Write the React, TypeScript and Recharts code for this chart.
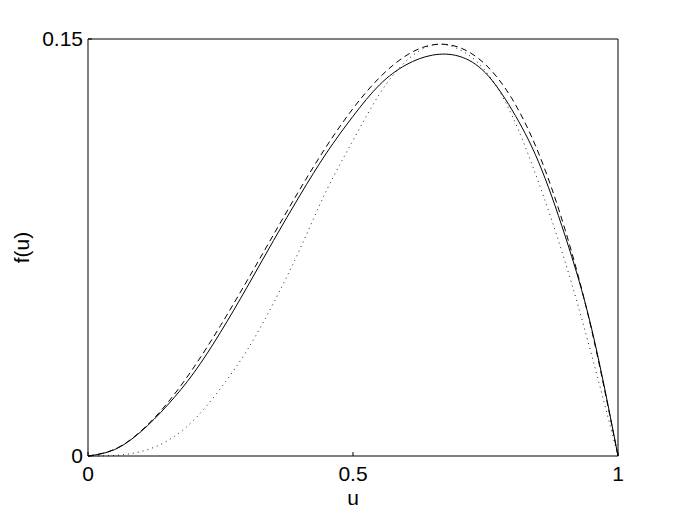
import { Line, LineChart, XAxis, YAxis } from "recharts";

// Sample positions along u at a 0.05 step.
const U = [
  0, 0.05, 0.1, 0.15, 0.2, 0.25, 0.3, 0.35, 0.4, 0.45, 0.5, 0.55, 0.6, 0.65,
  0.7, 0.75, 0.8, 0.85, 0.9, 0.95, 1,
];

// Solid curve (slightly lower peak, ~0.1443 near u = 0.67).
const SOLID = [
  0, 0.0023, 0.0088, 0.0183, 0.03, 0.0445, 0.0607, 0.0775, 0.0938, 0.109,
  0.1222, 0.1335, 0.1407, 0.1442, 0.1438, 0.1378, 0.1245, 0.1058, 0.0793,
  0.046, 0,
];

// Dashed curve (highest on the left, peak ~0.148).
const DASHED = [
  0, 0.0024, 0.009, 0.0191, 0.032, 0.0469, 0.063, 0.0796, 0.096, 0.1114,
  0.125, 0.1361, 0.144, 0.1479, 0.147, 0.1408, 0.1285, 0.109, 0.0815, 0.0455,
  0,
];

// Dotted curve (slow start, meets the dashed one at the top).
const DOTTED = [
  0, 0.0002, 0.0016, 0.0055, 0.013, 0.0243, 0.038, 0.055, 0.0745, 0.0955,
  0.1135, 0.1302, 0.142, 0.1478, 0.1463, 0.1385, 0.1225, 0.0985, 0.07, 0.0365,
  0,
];

const X_TICKS = [0, 0.5, 1];
const Y_TICKS = [0, 0.15];

const data = U.map((u, i) => ({
  u,
  solid: SOLID[i],
  dashed: DASHED[i],
  dotted: DOTTED[i],
}));

const FONT = "'Liberation Sans', Arial, Helvetica, sans-serif";
const tickStyle = { fontSize: 21, fill: "#000", fontFamily: FONT };
const axisStroke = { stroke: "#000", strokeWidth: 1 };

export default function App() {
  return (
    <div
      style={{
        position: "absolute",
        left: 0,
        top: 0,
        width: 682,
        height: 513,
        background: "#fff",
      }}
    >
      <LineChart
        width={682}
        height={513}
        data={data}
        margin={{ top: 38, right: 63, bottom: 0, left: 0 }}
      >
        <XAxis
          dataKey="u"
          type="number"
          domain={[0, 1]}
          ticks={X_TICKS}
          height={57}
          tickSize={-4}
          tickMargin={14}
          axisLine={axisStroke}
          tickLine={axisStroke}
          tick={tickStyle}
          label={{
            value: "u",
            position: "insideBottom",
            offset: 8,
            fontSize: 21,
            fill: "#000",
            fontFamily: FONT,
          }}
        />
        {/* mirrored box edge on top, ticks pointing inward */}
        <XAxis
          xAxisId="top"
          dataKey="u"
          orientation="top"
          type="number"
          domain={[0, 1]}
          ticks={X_TICKS}
          height={1}
          tickSize={-4}
          axisLine={axisStroke}
          tickLine={axisStroke}
          tick={false}
        />
        <YAxis
          type="number"
          domain={[0, 0.15]}
          ticks={Y_TICKS}
          width={88}
          tickSize={-4}
          tickMargin={9}
          axisLine={axisStroke}
          tickLine={axisStroke}
          tick={tickStyle}
          label={{
            value: "f(u)",
            angle: -90,
            position: "insideLeft",
            offset: 22,
            fontSize: 21,
            fill: "#000",
            fontFamily: FONT,
            style: { textAnchor: "middle" },
          }}
        />
        <YAxis
          yAxisId="right"
          orientation="right"
          type="number"
          domain={[0, 0.15]}
          ticks={Y_TICKS}
          width={1}
          tickSize={-4}
          axisLine={axisStroke}
          tickLine={axisStroke}
          tick={false}
        />
        <Line
          dataKey="dotted"
          type="natural"
          stroke="#222"
          strokeWidth={1}
          strokeDasharray="1 4"
          dot={false}
          isAnimationActive={false}
        />
        <Line
          dataKey="dashed"
          type="natural"
          stroke="#000"
          strokeWidth={1}
          strokeDasharray="6 4"
          dot={false}
          isAnimationActive={false}
        />
        <Line
          dataKey="solid"
          xAxisId="top"
          yAxisId="right"
          type="natural"
          stroke="#000"
          strokeWidth={1}
          dot={false}
          isAnimationActive={false}
        />
      </LineChart>
    </div>
  );
}
